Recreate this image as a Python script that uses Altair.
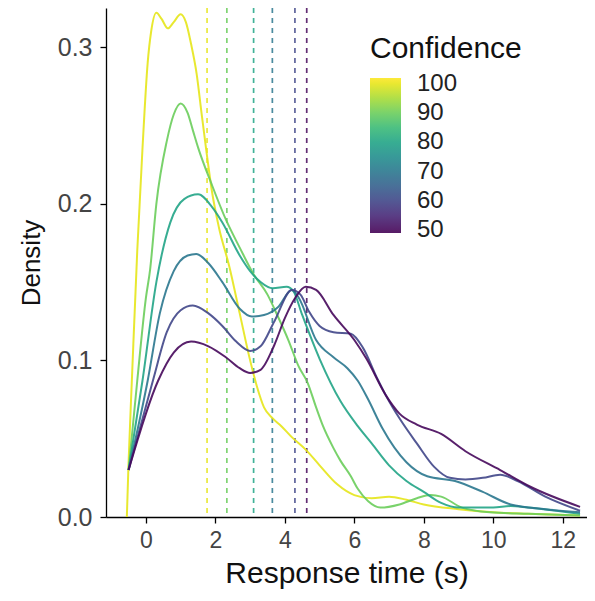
import altair as alt
import pandas as pd

levels = [100, 90, 80, 70, 60, 50]

x100 = [-0.55, -0.5, -0.4, -0.25, -0.1, 0.05, 0.15, 0.3, 0.45, 0.63, 0.8, 1.0, 1.15, 1.3, 1.46, 1.6, 1.75, 1.9, 2.1, 2.4, 2.7, 3.0, 3.2, 3.4, 3.65, 3.9, 4.2, 4.6, 5.0, 5.5, 6.0, 6.5, 7.0, 7.5, 8.0, 9.0, 10.0, 11.0, 12.5]
y100 = [0.0, 0.035, 0.09, 0.17, 0.235, 0.29, 0.31, 0.322, 0.318, 0.312, 0.316, 0.321, 0.316, 0.302, 0.283, 0.258, 0.232, 0.208, 0.185, 0.16, 0.13, 0.1, 0.083, 0.07, 0.063, 0.058, 0.051, 0.043, 0.033, 0.021, 0.014, 0.012, 0.013, 0.011, 0.008, 0.005, 0.003, 0.002, 0.001]

x90 = [-0.5, -0.25, 0.0, 0.12, 0.3, 0.6, 0.8, 1.0, 1.2, 1.35, 1.5, 1.9, 2.3, 2.7, 3.1, 3.5, 3.8, 4.1, 4.4, 4.65, 4.9, 5.1, 5.4, 5.6, 5.9, 6.1, 6.4, 6.75, 7.3, 7.8, 8.2, 8.5, 9.1, 9.9, 11.0, 12.5]
y90 = [0.03, 0.087, 0.14, 0.158, 0.2, 0.24, 0.257, 0.264, 0.258, 0.247, 0.236, 0.212, 0.19, 0.172, 0.155, 0.142, 0.128, 0.113, 0.096, 0.086, 0.07, 0.058, 0.044, 0.036, 0.026, 0.018, 0.01, 0.006, 0.008, 0.012, 0.014, 0.013, 0.006, 0.003, 0.002, 0.001]

x80 = [-0.5, -0.1, 0.3, 0.7, 1.1, 1.5, 1.9, 2.2, 2.7, 3.0, 3.3, 3.65, 4.05, 4.25, 4.5, 5.0, 5.6, 6.1, 6.5, 7.0, 7.5, 8.0, 8.5, 9.0, 10.0, 10.5, 11.0, 12.5]
y80 = [0.03, 0.087, 0.15, 0.188, 0.203, 0.206, 0.198, 0.188, 0.167, 0.157, 0.15, 0.146, 0.147, 0.144, 0.129, 0.101, 0.074, 0.058, 0.047, 0.033, 0.023, 0.016, 0.009, 0.006, 0.006, 0.007, 0.006, 0.002]

x70 = [-0.5, 0.05, 0.4, 0.8, 1.2, 1.45, 1.8, 2.2, 2.7, 3.05, 3.4, 3.8, 4.2, 4.4, 4.9, 5.4, 5.8, 6.1, 6.4, 6.8, 7.5, 8.1, 8.9, 9.7, 10.5, 11.5, 12.5]
y70 = [0.03, 0.087, 0.13, 0.157, 0.167, 0.168, 0.162, 0.15, 0.133, 0.128, 0.129, 0.134, 0.145, 0.14, 0.113, 0.102, 0.095, 0.087, 0.075, 0.057, 0.035, 0.026, 0.023, 0.016, 0.008, 0.005, 0.003]

x60 = [-0.5, 0.2, 0.6, 1.0, 1.35, 1.8, 2.2, 2.6, 3.0, 3.3, 3.7, 4.2, 4.45, 4.7, 5.0, 5.4, 5.9, 6.25, 6.65, 6.95, 7.3, 7.8, 8.3, 8.75, 9.2, 9.7, 10.2, 10.7, 11.5, 12.5]
y60 = [0.03, 0.087, 0.118, 0.132, 0.135, 0.13, 0.122, 0.112, 0.106, 0.109, 0.125, 0.145, 0.142, 0.131, 0.122, 0.118, 0.117, 0.108, 0.089, 0.076, 0.063, 0.047, 0.032, 0.025, 0.024, 0.025, 0.027, 0.023, 0.013, 0.004]

x50 = [-0.5, 0.35, 0.8, 1.3, 1.8, 2.3, 2.7, 3.0, 3.3, 3.7, 4.0, 4.3, 4.6, 4.9, 5.4, 6.0, 6.35, 6.9, 7.3, 7.8, 8.5, 9.2, 10.2, 11.1, 12.5]
y50 = [0.03, 0.087, 0.105, 0.112, 0.109, 0.102, 0.095, 0.092, 0.094, 0.11, 0.127, 0.14, 0.147, 0.145, 0.129, 0.113, 0.101, 0.078, 0.066, 0.059, 0.053, 0.042, 0.03, 0.019, 0.0065]

means = [1.76, 2.33, 3.10, 3.64, 4.29, 4.63]

x_ticks = [0, 2, 4, 6, 8, 10, 12]
y_ticks = [0.0, 0.1, 0.2, 0.3]
legend_ticks = [50, 60, 70, 80, 90, 100]

rows = []
for lvl, xs, ys in zip(levels, [x100, x90, x80, x70, x60, x50], [y100, y90, y80, y70, y60, y50]):
    for i, (a, b) in enumerate(zip(xs, ys)):
        rows.append({"Confidence": lvl, "t": a, "d": b, "i": i})
df = pd.DataFrame(rows)
mdf = pd.DataFrame({"Confidence": levels, "t": means})

FONT = "Liberation Sans"

legend = alt.Legend(
    type="gradient",
    title="Confidence",
    orient="none",
    legendX=264,
    legendY=26,
    direction="vertical",
    gradientLength=155,
    gradientThickness=31,
    gradientStrokeWidth=0,
    values=legend_ticks,
    labelOverlap=False,
    labelBaseline="middle",
    titleFont=FONT,
    titleFontSize=30,
    titleFontWeight="normal",
    titleColor="#111111",
    titlePadding=14,
    labelFont=FONT,
    labelFontSize=24,
    labelColor="#222222",
    labelOffset=16,
    padding=0,
)

x_scale = alt.Scale(domain=[-1.15, 12.7], nice=False, zero=False)
y_scale = alt.Scale(domain=[0, 0.325], nice=False, zero=True)

x_enc = alt.X("t:Q", scale=x_scale,
              axis=alt.Axis(values=x_ticks, title="Response time (s)", grid=False))
y_enc = alt.Y("d:Q", scale=y_scale, stack=None,
              axis=alt.Axis(values=y_ticks, format=".1f", title="Density", grid=False))


def cenc(lg):
    return alt.Color("Confidence:Q",
                     scale=alt.Scale(scheme="viridis", domain=[49, 102]),
                     legend=lg)


area = alt.Chart(df).mark_area(opacity=0.035, interpolate="monotone").encode(
    x=x_enc, y=y_enc, color=cenc(None), detail="Confidence:N", order="i:Q"
)

rules = alt.Chart(mdf).mark_rule(strokeDash=[5, 5], strokeWidth=1.7, opacity=0.85).encode(
    x=x_enc,
    color=cenc(None),
)

lines = alt.Chart(df).mark_line(strokeWidth=2, opacity=0.9, interpolate="monotone").encode(
    x=x_enc, y=y_enc, color=cenc(legend), detail="Confidence:N", order="i:Q"
)

chart = alt.layer(area, rules, lines).resolve_scale(color="independent").properties(
    width=481,
    height=509,
    autosize=alt.AutoSizeParams(type="none"),
    padding={"left": 98, "top": 0, "right": 0, "bottom": 73},
).configure_view(stroke=None).configure_axis(
    labelFont=FONT,
    labelColor="#444444",
    titleFont=FONT,
    titleFontWeight="normal",
    titleColor="#111111",
    domainColor="#000000",
    domainWidth=1.3,
    tickColor="#000000",
    tickWidth=1.3,
    tickSize=6,
).configure_axisX(titlePadding=6, labelPadding=6, labelFontSize=23, titleFontSize=30).configure_axisY(
    titlePadding=13, titleFontSize=26, labelPadding=8, labelFontSize=25
)

chart.save("out.html", embed_options={"renderer": "svg", "actions": False})
